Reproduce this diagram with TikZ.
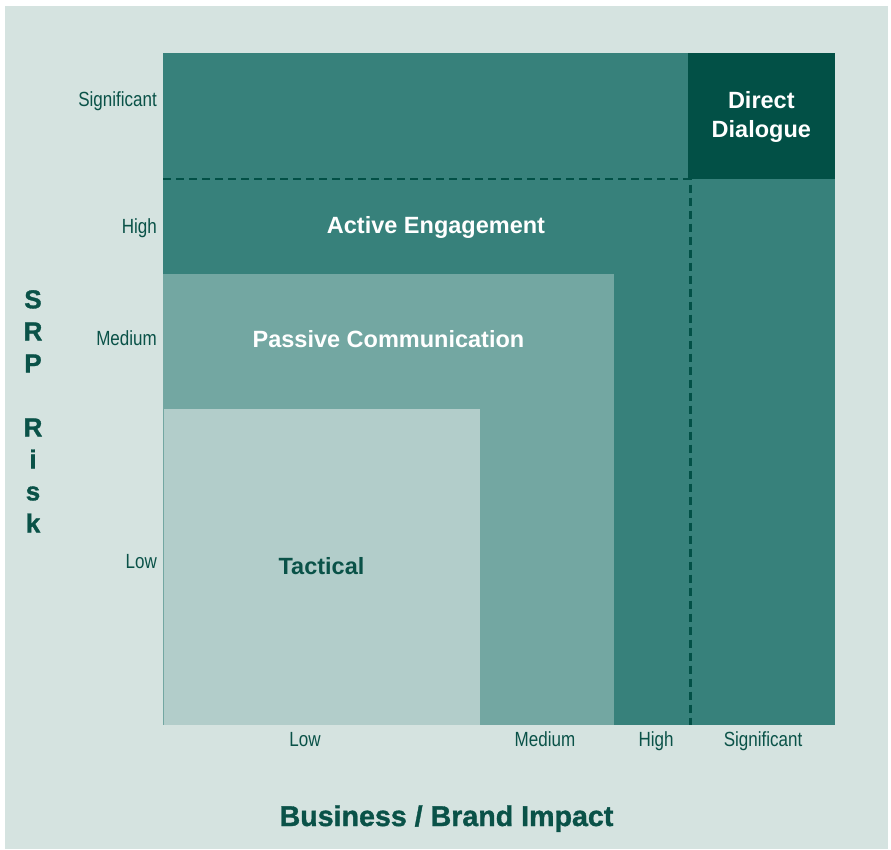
\documentclass[tikz,border=0pt]{standalone}
\usepackage{fontspec}
\setmainfont{Liberation Sans}
\newfontfamily\condfont[FakeStretch=0.83]{Liberation Sans}
\newfontfamily\heavyfont[FakeBold=1.2]{Liberation Sans Bold}
\definecolor{bgc}{HTML}{D5E3E0}
\definecolor{tealA}{HTML}{37817B}
\definecolor{tealB}{HTML}{73A7A2}
\definecolor{tealC}{HTML}{B2CDCA}
\definecolor{tealD}{HTML}{025046}
\definecolor{txtc}{HTML}{0A5248}
\tikzset{
  ticklab/.style={inner sep=0pt, text=txtc, font=\condfont\fontsize{20.5}{24}\selectfont},
  regionlab/.style={inner sep=0pt, text=white, font=\bfseries\fontsize{23.5}{29}\selectfont},
  axislab/.style={inner sep=0pt, text=txtc, font=\heavyfont\fontsize{28.6}{32}\selectfont},
  sidelab/.style={inner sep=0pt, text=txtc, align=center, font=\heavyfont\fontsize{26}{32}\selectfont},
  divider/.style={draw=tealD, line width=2.4pt, dash pattern=on 8pt off 5pt}
}
\begin{document}
\begin{tikzpicture}[x=1pt,y=-1pt]
\useasboundingbox (0,0) rectangle (891,849);
\fill[white] (0,0) rectangle (891,849);
\fill[bgc] (5,6) rectangle (888,849);
% regions
\fill[tealA] (163,53) rectangle (835,724.5);
\fill[tealB] (163,274) rectangle (614,724.5);
\fill[tealC] (163,409) rectangle (480,724.5);
\fill[tealD] (688,53) rectangle (835,179);
\draw[tealB, line width=1pt] (163.5,409) -- (163.5,724.5);
% dashed dividers
\coordinate (dl) at (163,179);
\coordinate (dc) at (690.5,179);
\coordinate (db) at (690.5,724.5);
\draw[divider] (dl) -- (dc) -- (db);
% region labels
\node[regionlab, anchor=base] (ae) at (436,233) {Active Engagement};
\node[regionlab, anchor=base] (pc) at (388.5,347) {Passive Communication};
\node[regionlab, anchor=base, text=txtc] (ta) at (321.5,574.5) {Tactical};
\node[regionlab, align=center] (dd) at (761.3,116.7) {Direct\\Dialogue};
% y tick labels
\node[ticklab, anchor=base east] (ys) at (157,106) {Significant};
\node[ticklab, anchor=base east] (yh) at (157,233) {High};
\node[ticklab, anchor=base east] (ym) at (157,345) {Medium};
\node[ticklab, anchor=base east] (yl) at (157,568) {Low};
% x tick labels
\node[ticklab, anchor=base] (xl) at (305,746) {Low};
\node[ticklab, anchor=base] (xm) at (545,746) {Medium};
\node[ticklab, anchor=base] (xh) at (656,746) {High};
\node[ticklab, anchor=base] (xs) at (763,746) {Significant};
% axis titles
\node[axislab, anchor=base] (xt) at (446.5,826) {Business / Brand Impact};
\node[sidelab, anchor=north] (yt) at (33,290) {S\\R\\P\\\mbox{}\\R\\i\\s\\k};
\end{tikzpicture}
\end{document}
